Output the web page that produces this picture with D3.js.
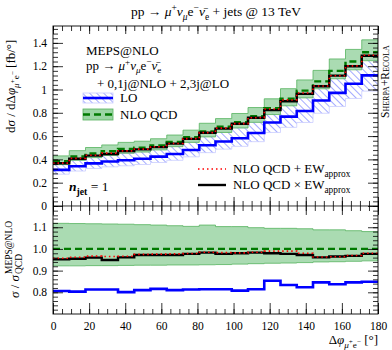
<!DOCTYPE html>
<html>
<head>
<meta charset="utf-8">
<script src="https://cdn.jsdelivr.net/npm/d3@7"></script>
<style>
  body { margin: 0; background: #fff; }
  svg { display: block; font-family: "Liberation Serif", "DejaVu Serif", serif; }
</style>
</head>
<body>
<svg id="chart" width="392" height="350"></svg>
<script>
// bin edges, delta phi in degrees
let binEdges = [0, 9, 18, 27, 36, 45, 54, 63, 72, 81, 90, 99, 108, 117, 126, 135, 144, 153, 162, 171, 180];

// main panel, dsigma/ddphi [fb/deg]
let nloQcd   = [0.385, 0.425, 0.450, 0.470, 0.490, 0.500, 0.520, 0.550, 0.590, 0.640, 0.680, 0.720, 0.770, 0.840, 0.920, 0.990, 1.070, 1.160, 1.240, 1.320];
let nloQcdUp = [0.430, 0.475, 0.502, 0.524, 0.546, 0.556, 0.577, 0.609, 0.651, 0.710, 0.750, 0.794, 0.845, 0.920, 1.007, 1.082, 1.164, 1.262, 1.344, 1.426];
let nloQcdDn = [0.355, 0.392, 0.415, 0.434, 0.453, 0.463, 0.481, 0.509, 0.546, 0.593, 0.631, 0.670, 0.718, 0.785, 0.860, 0.928, 1.006, 1.092, 1.169, 1.247];
let lo       = [0.310, 0.341, 0.366, 0.382, 0.392, 0.405, 0.424, 0.446, 0.480, 0.521, 0.554, 0.582, 0.627, 0.717, 0.767, 0.815, 0.905, 0.971, 1.049, 1.121];
let loUp     = [0.357, 0.392, 0.421, 0.439, 0.451, 0.466, 0.488, 0.513, 0.552, 0.599, 0.637, 0.669, 0.721, 0.825, 0.882, 0.937, 1.041, 1.117, 1.206, 1.289];
let loDn     = [0.273, 0.300, 0.322, 0.336, 0.345, 0.356, 0.373, 0.392, 0.422, 0.458, 0.488, 0.512, 0.552, 0.631, 0.675, 0.717, 0.796, 0.854, 0.923, 0.986];
let nloEwAdd = [0.368, 0.409, 0.435, 0.454, 0.473, 0.488, 0.508, 0.537, 0.578, 0.630, 0.668, 0.707, 0.758, 0.832, 0.911, 0.970, 1.030, 1.118, 1.203, 1.294];
let nloEwMul = [0.367, 0.406, 0.432, 0.446, 0.471, 0.486, 0.505, 0.535, 0.576, 0.629, 0.664, 0.706, 0.757, 0.823, 0.899, 0.962, 1.028, 1.119, 1.200, 1.290];

// ratio panel, sigma / sigma_QCD^MEPS@NLO
let ratioQcdUp = [1.118, 1.117, 1.116, 1.115, 1.114, 1.112, 1.110, 1.107, 1.104, 1.110, 1.103, 1.103, 1.098, 1.095, 1.095, 1.093, 1.088, 1.088, 1.084, 1.080];
let ratioQcdDn = [0.922, 0.922, 0.923, 0.923, 0.924, 0.925, 0.925, 0.926, 0.926, 0.927, 0.928, 0.930, 0.932, 0.934, 0.935, 0.937, 0.940, 0.941, 0.943, 0.945];
let ratioLo    = [0.806, 0.803, 0.813, 0.813, 0.801, 0.810, 0.816, 0.810, 0.813, 0.814, 0.814, 0.808, 0.814, 0.853, 0.834, 0.823, 0.846, 0.837, 0.846, 0.849];
let ratioEwAdd = [0.957, 0.962, 0.967, 0.965, 0.966, 0.975, 0.976, 0.977, 0.979, 0.985, 0.983, 0.982, 0.985, 0.990, 0.990, 0.980, 0.963, 0.964, 0.970, 0.980];
let ratioEwMul = [0.952, 0.955, 0.960, 0.949, 0.961, 0.972, 0.972, 0.972, 0.977, 0.983, 0.977, 0.980, 0.983, 0.980, 0.977, 0.972, 0.961, 0.965, 0.968, 0.977];

// tick values
let xMajor = [0, 20, 40, 60, 80, 100, 120, 140, 160, 180];
let yTopMajor = [0, 0.2, 0.4, 0.6, 0.8, 1, 1.2, 1.4];
let yRatMajor = [0.8, 0.9, 1.0, 1.1];

let blue = "#0000ff", green = "#007a00", bandFill = "#9bd5a4", bandEdge = "#55b25e";

let svg = d3.select("#chart");
let L = 53, R = 378, T = 26, M = 216, B = 314;

let x = d3.scaleLinear().domain([0, 180]).range([L, R]);
let yTop = d3.scaleLinear().domain([-0.086, 1.545]).range([M, T]);
let yRat = d3.scaleLinear().domain([0.7, 1.15]).range([B, M + 0.4]);

let defs = svg.append("defs");
defs.append("clipPath").attr("id", "clipTop")
  .append("rect").attr("x", L).attr("y", T).attr("width", R - L).attr("height", M - T);
defs.append("clipPath").attr("id", "clipRat")
  .append("rect").attr("x", L).attr("y", M).attr("width", R - L).attr("height", B - M);
defs.append("pattern").attr("id", "hatch")
  .attr("patternUnits", "userSpaceOnUse")
  .attr("width", 5).attr("height", 5)
  .attr("patternTransform", "rotate(45)")
  .append("line")
  .attr("x1", 0).attr("y1", 2.5).attr("x2", 5).attr("y2", 2.5)
  .attr("stroke", "#a3aaff").attr("stroke-width", 1);

// step helpers
let steps = (vals) => vals.map((v, i) => [binEdges[i], v]).concat([[binEdges[vals.length], vals[vals.length - 1]]]);
let bandPts = (dn, up) => dn.map((v, i) => [binEdges[i], v, up[i]]).concat([[binEdges[dn.length], dn[dn.length - 1], up[up.length - 1]]]);

let stepLine = (y) => d3.line().curve(d3.curveStepAfter).x(d => x(d[0])).y(d => y(d[1]));
let stepArea = (y) => d3.area().curve(d3.curveStepAfter).x(d => x(d[0])).y0(d => y(d[1])).y1(d => y(d[2]));

// rich text: parts are [text, shift(em), scale, italic, bold]
let rich = (txt, parts, size) => {
  let cur = 0;
  parts.forEach(p => {
    let s = p[0], shift = (p[1] || 0) * size, sc = p[2] || 1;
    let t = txt.append("tspan").text(s)
      .attr("dy", shift - cur)
      .style("font-size", (size * sc) + "px");
    if (p[3]) t.style("font-style", "italic");
    if (p[4]) t.style("font-weight", "bold");
    cur = shift;
  });
  return txt;
};

// ---------- MAIN PANEL ----------
let gTop = svg.append("g").attr("clip-path", "url(#clipTop)");

gTop.append("path")
  .attr("d", stepArea(yTop)(bandPts(loDn, loUp)))
  .attr("fill", "url(#hatch)");
gTop.append("path")
  .attr("d", stepLine(yTop)(steps(loUp)))
  .attr("fill", "none").attr("stroke", "#c9cdff").attr("stroke-width", 0.8);
gTop.append("path")
  .attr("d", stepLine(yTop)(steps(loDn)))
  .attr("fill", "none").attr("stroke", "#c9cdff").attr("stroke-width", 0.8);

gTop.append("path")
  .attr("d", stepArea(yTop)(bandPts(nloQcdDn, nloQcdUp)))
  .attr("fill", bandFill).attr("fill-opacity", 0.85)
  .attr("stroke", bandEdge).attr("stroke-width", 0.8);

gTop.append("path")
  .attr("d", stepLine(yTop)(steps(lo)))
  .attr("fill", "none").attr("stroke", blue).attr("stroke-width", 2.6);
gTop.append("path")
  .attr("d", stepLine(yTop)(steps(nloQcd)))
  .attr("fill", "none").attr("stroke", green).attr("stroke-width", 2.4)
  .attr("stroke-dasharray", "7,4");
gTop.append("path")
  .attr("d", stepLine(yTop)(steps(nloEwMul)))
  .attr("fill", "none").attr("stroke", "#000").attr("stroke-width", 2.4);
gTop.append("path")
  .attr("d", stepLine(yTop)(steps(nloEwAdd)))
  .attr("fill", "none").attr("stroke", "#ff0000").attr("stroke-width", 1.6)
  .attr("stroke-dasharray", "1.5,3");

// ---------- RATIO PANEL ----------
let gRat = svg.append("g").attr("clip-path", "url(#clipRat)");

gRat.append("path")
  .attr("d", stepArea(yRat)(bandPts(ratioQcdDn, ratioQcdUp)))
  .attr("fill", bandFill).attr("fill-opacity", 0.85)
  .attr("stroke", bandEdge).attr("stroke-width", 0.8);
gRat.append("line")
  .attr("x1", x(0)).attr("x2", x(180)).attr("y1", yRat(1)).attr("y2", yRat(1))
  .attr("stroke", green).attr("stroke-width", 2.2).attr("stroke-dasharray", "7,4");
gRat.append("path")
  .attr("d", stepLine(yRat)(steps(ratioLo)))
  .attr("fill", "none").attr("stroke", blue).attr("stroke-width", 2.6);
gRat.append("path")
  .attr("d", stepLine(yRat)(steps(ratioEwMul)))
  .attr("fill", "none").attr("stroke", "#000").attr("stroke-width", 2.4);
gRat.append("path")
  .attr("d", stepLine(yRat)(steps(ratioEwAdd)))
  .attr("fill", "none").attr("stroke", "#ff0000").attr("stroke-width", 1.6)
  .attr("stroke-dasharray", "1.5,3");

// ---------- AXES ----------
let minor = (a, b, step) => d3.range(a, b + step / 2, step).map(v => +v.toFixed(3));
let xMinor = minor(0, 180, 5);

let addAxis = (axis, tr) => {
  let g = svg.append("g").attr("transform", tr).call(axis);
  g.select(".domain").remove();
  g.selectAll(".tick line").attr("stroke", "#000").attr("stroke-width", 0.8);
  g.selectAll("text").style("font-size", "11.5px").style("font-family", "Liberation Serif").attr("fill", "#000");
  return g;
};
let noLab = () => "";

// left / right, main
addAxis(d3.axisLeft(yTop).tickValues(yTopMajor).tickSize(-10).tickPadding(6).tickFormat(d => d === 1 ? "1" : d3.format("")(d)), "translate(" + L + ",0)");
addAxis(d3.axisLeft(yTop).tickValues(minor(-0.08, 1.52, 0.04)).tickSize(-5).tickFormat(noLab), "translate(" + L + ",0)");
addAxis(d3.axisRight(yTop).tickValues(yTopMajor).tickSize(-10).tickFormat(noLab), "translate(" + R + ",0)");
addAxis(d3.axisRight(yTop).tickValues(minor(-0.08, 1.52, 0.04)).tickSize(-5).tickFormat(noLab), "translate(" + R + ",0)");

// left / right, ratio
addAxis(d3.axisLeft(yRat).tickValues(yRatMajor).tickSize(-10).tickPadding(6).tickFormat(d3.format(".1f")), "translate(" + L + ",0)");
addAxis(d3.axisLeft(yRat).tickValues(minor(0.72, 1.14, 0.02)).tickSize(-5).tickFormat(noLab), "translate(" + L + ",0)");
addAxis(d3.axisRight(yRat).tickValues(yRatMajor).tickSize(-10).tickFormat(noLab), "translate(" + R + ",0)");
addAxis(d3.axisRight(yRat).tickValues(minor(0.72, 1.14, 0.02)).tickSize(-5).tickFormat(noLab), "translate(" + R + ",0)");

// top edge
addAxis(d3.axisTop(x).tickValues(xMajor).tickSize(-8).tickFormat(noLab), "translate(0," + T + ")");
addAxis(d3.axisTop(x).tickValues(xMinor).tickSize(-5).tickFormat(noLab), "translate(0," + T + ")");

// zero line of main panel, ticks cross it
svg.append("line")
  .attr("x1", x(0)).attr("x2", x(180)).attr("y1", yTop(0)).attr("y2", yTop(0))
  .attr("stroke", "#000").attr("stroke-width", 0.8);
addAxis(d3.axisTop(x).tickValues(xMajor).tickSize(9).tickFormat(noLab), "translate(0," + yTop(0) + ")");
addAxis(d3.axisBottom(x).tickValues(xMajor).tickSize(9).tickFormat(noLab), "translate(0," + yTop(0) + ")");
addAxis(d3.axisTop(x).tickValues(xMinor).tickSize(5).tickFormat(noLab), "translate(0," + yTop(0) + ")");
addAxis(d3.axisBottom(x).tickValues(xMinor).tickSize(5).tickFormat(noLab), "translate(0," + yTop(0) + ")");

// bottom edge
addAxis(d3.axisBottom(x).tickValues(xMajor).tickSize(-11).tickPadding(8), "translate(0," + B + ")");
addAxis(d3.axisBottom(x).tickValues(xMinor).tickSize(-5).tickFormat(noLab), "translate(0," + B + ")");

// frame
svg.append("rect")
  .attr("x", L).attr("y", T).attr("width", R - L).attr("height", B - T)
  .attr("fill", "none").attr("stroke", "#000").attr("stroke-width", 0.9);

// ---------- TEXTS ----------
rich(svg.append("text").attr("x", 216).attr("y", 16).attr("text-anchor", "middle"), [
  ["pp → "], ["μ", 0, 1, true], ["+", -0.4, 0.7], ["ν", 0, 1, true], ["μ", 0.3, 0.7, true],
  ["e", 0], ["−", -0.4, 0.7], ["ν\u0304", 0, 1, true], ["e", 0.3, 0.7], [" + jets @ 13 TeV", 0]
], 13.5);

// y title, main
rich(svg.append("text").attr("transform", "translate(15,133) rotate(-90)"), [
  ["d"], ["σ", 0, 1, true], [" / dΔ"], ["φ", 0, 1, true], ["μ", 0.3, 0.7, true], ["+", 0.0, 0.55],
  ["e", 0.3, 0.7], ["−", 0.0, 0.55], [" [fb/°]", 0]
], 13);

// y title, ratio
let gRy = svg.append("g").attr("transform", "translate(19,298) rotate(-90)");
let sMain = rich(gRy.append("text"), [["σ", 0, 1, true], [" / "], ["σ", 0, 1, true]], 13);
let wMain = sMain.node().getComputedTextLength();
gRy.append("text").attr("x", wMain + 1).attr("y", -7).style("font-size", "9.5px").text("MEPS@NLO");
gRy.append("text").attr("x", wMain + 1).attr("y", 3).style("font-size", "9.5px").text("QCD");

// x title
rich(svg.append("text").attr("x", R).attr("y", 344).attr("text-anchor", "end"), [
  ["Δ"], ["φ", 0, 1, true], ["μ", 0.3, 0.7, true], ["+", 0.0, 0.55],
  ["e", 0.3, 0.7], ["−", 0.0, 0.55], [" [°]", 0]
], 13);

// generator tag
svg.append("text")
  .attr("transform", "translate(389,118) rotate(-90)")
  .style("font-size", "11.5px").style("font-variant", "small-caps")
  .text("Sherpa+Recola");

// legend, upper
let lg = svg.append("g").style("font-size", "13px");
lg.append("text").attr("x", 86).attr("y", 55).text("MEPS@NLO");
rich(lg.append("text").attr("x", 86).attr("y", 70), [
  ["pp → "], ["μ", 0, 1, true], ["+", -0.4, 0.7], ["ν", 0, 1, true], ["μ", 0.25, 0.7, true],
  ["e", 0], ["−", -0.4, 0.7], ["ν\u0304", 0, 1, true], ["e", 0.25, 0.7]
], 13);
lg.append("text").attr("x", 97).attr("y", 88).text("+ 0,1j@NLO + 2,3j@LO");

lg.append("rect").attr("x", 83).attr("y", 93).attr("width", 30).attr("height", 10)
  .attr("fill", "url(#hatch)").attr("stroke", "#c9cdff").attr("stroke-width", 0.8);
lg.append("line").attr("x1", 83).attr("x2", 113).attr("y1", 98).attr("y2", 98)
  .attr("stroke", blue).attr("stroke-width", 2.6);
lg.append("text").attr("x", 120).attr("y", 102).text("LO");

lg.append("rect").attr("x", 83).attr("y", 109).attr("width", 30).attr("height", 11)
  .attr("fill", bandFill).attr("stroke", bandEdge).attr("stroke-width", 0.8);
lg.append("line").attr("x1", 83).attr("x2", 113).attr("y1", 114.5).attr("y2", 114.5)
  .attr("stroke", green).attr("stroke-width", 2.4).attr("stroke-dasharray", "7,4");
lg.append("text").attr("x", 120).attr("y", 119).text("NLO QCD");

// legend, lower
lg.append("line").attr("x1", 198).attr("x2", 226).attr("y1", 169).attr("y2", 169)
  .attr("stroke", "#ff0000").attr("stroke-width", 1.6).attr("stroke-dasharray", "1.5,3");
rich(lg.append("text").attr("x", 233).attr("y", 173), [["NLO QCD + EW"], ["approx", 0.3, 0.72]], 13);
lg.append("line").attr("x1", 198).attr("x2", 226).attr("y1", 185).attr("y2", 185)
  .attr("stroke", "#000").attr("stroke-width", 2.4);
rich(lg.append("text").attr("x", 233).attr("y", 189), [["NLO QCD × EW"], ["approx", 0.3, 0.72]], 13);

// n_jet label
rich(svg.append("text").attr("x", 69).attr("y", 191), [
  ["n", 0, 1, true, true], ["jet", 0.3, 0.72, false, true], [" = 1", 0]
], 13.5);
</script>
</body>
</html>
